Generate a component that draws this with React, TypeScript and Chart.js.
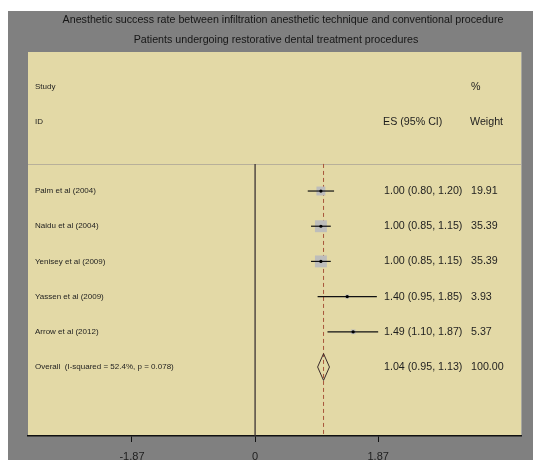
import React, { useEffect, useRef } from "react";
import { Chart, registerables } from "chart.js";

Chart.register(...registerables);

const titleLines = [
  "Anesthetic success rate between infiltration anesthetic technique and conventional procedure",
  "Patients undergoing restorative dental treatment procedures",
];
const studies = [
  "Palm et al (2004)",
  "Naidu et al (2004)",
  "Yenisey et al (2009)",
  "Yassen et al (2009)",
  "Arrow et al (2012)",
];
const es = [1.0, 1.0, 1.0, 1.4, 1.49];
const ciLow = [0.8, 0.85, 0.85, 0.95, 1.1];
const ciHigh = [1.2, 1.15, 1.15, 1.85, 1.87];
const weights = [19.91, 35.39, 35.39, 3.93, 5.37];
const overallLabel = "Overall  (I-squared = 52.4%, p = 0.078)";
const overallEs = 1.04;
const overallLow = 0.95;
const overallHigh = 1.13;
const overallWeight = 100.0;
const xTicks = [-1.87, 0, 1.87];

const X_MIN = -3.45;
const X_MAX = 4.04;
const Y_MIN = -3.95;
const Y_MAX = 6.96;
const SEP_Y = -0.77;
const DIAMOND_HALF = 0.38;

const W = 533;
const H = 470;
const SANS = "'Liberation Sans', Arial, sans-serif";

const fmt = (v: number) => v.toFixed(2);

export default function App() {
  const ref = useRef<HTMLCanvasElement | null>(null);

  useEffect(() => {
    if (!ref.current) return;
    const n = studies.length;
    const overallRow = n;

    const ciSets = studies.map((_, i) => ({
      type: "scatter" as const,
      data: [
        { x: ciLow[i], y: i },
        { x: ciHigh[i], y: i },
      ],
      showLine: true,
      borderColor: "#111111",
      borderWidth: 1.2,
      pointRadius: 0,
      order: 2,
    }));

    const bgPlugin = {
      id: "forestBg",
      beforeDraw(chart: any) {
        const { ctx, chartArea } = chart;
        const ys = chart.scales.y;
        ctx.save();
        ctx.fillStyle = "#ffffff";
        ctx.fillRect(0, 0, W, H);
        ctx.fillStyle = "#808080";
        ctx.fillRect(8, 11, W - 8, H - 11);
        ctx.fillStyle = "#e3d9a6";
        ctx.fillRect(chartArea.left, chartArea.top, chartArea.right - chartArea.left, chartArea.bottom - chartArea.top);
        ctx.strokeStyle = "#a8a8a0";
        ctx.lineWidth = 1;
        ctx.beginPath();
        ctx.moveTo(chartArea.right + 0.5, chartArea.top);
        ctx.lineTo(chartArea.right + 0.5, chartArea.bottom);
        ctx.stroke();
        const sy = Math.round(ys.getPixelForValue(SEP_Y)) + 0.5;
        ctx.strokeStyle = "#b8b09a";
        ctx.beginPath();
        ctx.moveTo(chartArea.left, sy);
        ctx.lineTo(chartArea.right, sy);
        ctx.stroke();
        ctx.restore();
      },
      afterDraw(chart: any) {
        const { ctx, chartArea } = chart;
        const ys = chart.scales.y;
        ctx.save();
        ctx.fillStyle = "#161616";
        ctx.textBaseline = "middle";
        // titles
        ctx.textAlign = "center";
        ctx.font = `10.7px ${SANS}`;
        ctx.fillText(titleLines[0], 283, 20);
        ctx.fillText(titleLines[1], 276, 40);
        // headers
        ctx.textAlign = "left";
        const labX = chartArea.left + 7;
        const esX = 383;
        const wX = 470;
        ctx.fillStyle = "#1e1e1e";
        ctx.font = `8px ${SANS}`;
        ctx.fillText("Study", labX, ys.getPixelForValue(-2.95));
        ctx.fillText("ID", labX, ys.getPixelForValue(-1.96));
        ctx.font = `10.7px ${SANS}`;
        ctx.fillText("%", wX + 1, ys.getPixelForValue(-2.95));
        ctx.fillText("ES (95% CI)", esX, ys.getPixelForValue(-1.96));
        ctx.fillText("Weight", wX, ys.getPixelForValue(-1.96));
        // rows
        for (let i = 0; i <= n; i++) {
          const y = ys.getPixelForValue(i);
          const isOverall = i === n;
          ctx.font = `8px ${SANS}`;
          ctx.fillText(isOverall ? overallLabel : studies[i], labX, y);
          ctx.font = `10.7px ${SANS}`;
          const e = isOverall ? overallEs : es[i];
          const lo = isOverall ? overallLow : ciLow[i];
          const hi = isOverall ? overallHigh : ciHigh[i];
          const w = isOverall ? overallWeight : weights[i];
          ctx.fillText(`${fmt(e)} (${fmt(lo)}, ${fmt(hi)})`, esX + 1, y);
          ctx.fillText(fmt(w), wX + 1, y);
        }
        ctx.restore();
      },
    };

    const chart = new Chart(ref.current, {
      type: "scatter",
      data: {
        datasets: [
          {
            data: es.map((v, i) => ({ x: v, y: i })),
            pointStyle: "rect",
            pointRadius: weights.map((w) => 1.414 * Math.sqrt(w)),
            backgroundColor: "#bdbdbb",
            borderWidth: 0,
            order: 4,
          } as any,
          ...ciSets,
          {
            data: es.map((v, i) => ({ x: v, y: i })),
            pointRadius: 1.6,
            backgroundColor: "#000000",
            borderWidth: 0,
            order: 1,
          },
          {
            data: [
              { x: overallLow, y: overallRow },
              { x: overallEs, y: overallRow - DIAMOND_HALF },
              { x: overallHigh, y: overallRow },
              { x: overallEs, y: overallRow + DIAMOND_HALF },
              { x: overallLow, y: overallRow },
            ],
            showLine: true,
            borderColor: "#3a2a2a",
            borderWidth: 1,
            pointRadius: 0,
            order: 1,
          },
          {
            data: [
              { x: 0, y: SEP_Y },
              { x: 0, y: Y_MAX },
            ],
            showLine: true,
            borderColor: "#3d3535",
            borderWidth: 1.3,
            pointRadius: 0,
            order: 5,
          },
          {
            data: [
              { x: overallEs, y: SEP_Y },
              { x: overallEs, y: Y_MAX },
            ],
            showLine: true,
            borderColor: "#a8553a",
            borderWidth: 1,
            borderDash: [4, 3],
            pointRadius: 0,
            order: 5,
          },
        ],
      },
      options: {
        animation: false,
        responsive: false,
        events: [],
        layout: { padding: { left: 28, right: 12, top: 52, bottom: 4 } },
        plugins: { legend: { display: false }, tooltip: { enabled: false }, title: { display: false } },
        scales: {
          x: {
            type: "linear",
            position: "bottom",
            min: X_MIN,
            max: X_MAX,
            afterBuildTicks: (scale: any) => {
              scale.ticks = xTicks.map((v) => ({ value: v }));
            },
            afterFit: (scale: any) => {
              scale.height = 30;
            },
            grid: { drawOnChartArea: false, drawTicks: true, tickLength: 6, color: "#111111", lineWidth: 1 },
            border: { display: true, color: "#111111", width: 1.5 },
            ticks: {
              autoSkip: false,
              maxRotation: 0,
              padding: 8,
              color: "#1e1e1e",
              font: { family: SANS, size: 11 },
              callback: (v: any) => (Number(v) === 0 ? "0" : Number(v).toFixed(2)),
            },
          },
          y: { type: "linear", display: false, min: Y_MIN, max: Y_MAX, reverse: true },
        },
      },
      plugins: [bgPlugin],
    } as any);

    return () => chart.destroy();
  }, []);

  return (
    <div style={{ position: "fixed", left: 0, top: 0, width: 533, height: 460, overflow: "hidden", background: "#fff" }}>
      <canvas ref={ref} width={W} height={H} style={{ display: "block", width: W, height: H }} />
    </div>
  );
}
